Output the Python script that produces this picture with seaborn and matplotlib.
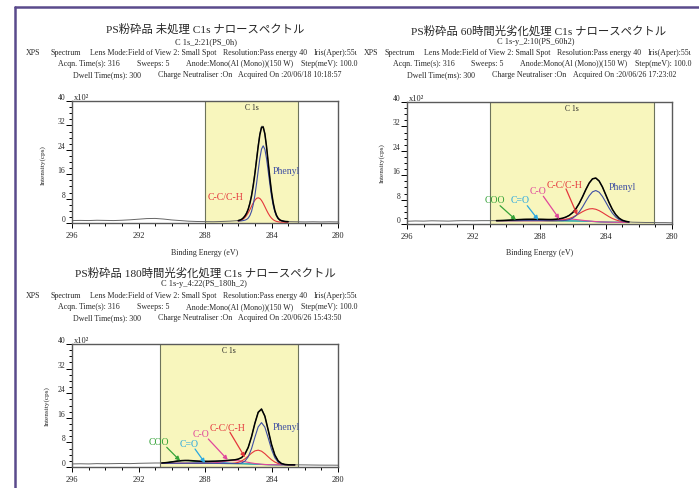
import numpy as np
import matplotlib
matplotlib.use('Agg')
import matplotlib.pyplot as plt
from matplotlib.lines import Line2D
from matplotlib.ticker import MultipleLocator
import seaborn as sns

# ---- axis setup shared by the three spectra ----
x_ticks = [296, 292, 288, 284, 280]
y_ticks = [0, 8, 16, 24, 32, 40]

# ---- panel 1 : untreated ----
p1_title = 'PS粉砕品 未処理 C1s ナロースペクトル'
p1_scan = 'C 1s_2:21(PS_0h)'
p1_acquired = '20/06/18 10:18:57'
p1_region = (288.0, 282.4)
p1_be = np.linspace(286.0, 283.0, 31)
p1_baseline = [0.45, 0.45, 0.45, 0.45, 0.45, 0.45, 0.45, 0.44, 0.43, 0.42,
               0.41, 0.39, 0.37, 0.35, 0.33, 0.31, 0.29, 0.28, 0.27, 0.26,
               0.25, 0.25, 0.25, 0.25, 0.25, 0.25, 0.25, 0.25, 0.25, 0.25, 0.25]
p1_phenyl = [0.2, 0.22, 0.26, 0.35, 0.48, 0.7, 1.15, 2.0, 3.4, 5.6,
             8.6, 12.5, 16.8, 20.9, 23.9, 25.0, 23.9, 20.9, 16.8, 12.5,
             8.6, 5.6, 3.4, 2.0, 1.15, 0.7, 0.48, 0.35, 0.26, 0.22, 0.2]
p1_cc = [0.15, 0.28, 0.49, 0.84, 1.34, 2.03, 2.91, 3.95, 5.07, 6.15,
         7.07, 7.69, 7.9, 7.69, 7.07, 6.15, 5.07, 3.95, 2.91, 2.03,
         1.34, 0.84, 0.49, 0.28, 0.15, 0.07, 0.03, 0.02, 0, 0, 0]
p1_raw_peak = [0.8, 1.0, 1.2, 1.7, 2.4, 3.3, 4.7, 6.7, 9.3, 12.7,
               16.6, 21.1, 25.6, 29.4, 31.7, 31.7, 29.3, 25.0, 19.8, 14.6,
               10.0, 6.5, 4.0, 2.4, 1.5, 1.0, 0.75, 0.6, 0.5, 0.45, 0.45]
p1_raw_left_be = np.linspace(296.0, 286.5, 20)
p1_raw_left = [0.8, 0.85, 0.8, 0.9, 0.85, 0.8, 0.9, 1.05, 1.25, 1.45,
               1.5, 1.3, 1.0, 0.8, 0.6, 0.5, 0.45, 0.42, 0.5, 0.6]
p1_raw_right_be = np.linspace(282.5, 280.0, 6)
p1_raw_right = [0.4, 0.35, 0.4, 0.35, 0.4, 0.35]

# ---- panels 2 and 3 share the fit grid ----
fit_be = np.linspace(290.6, 282.6, 41)
raw_left_be = np.linspace(296.0, 291.0, 11)
raw_right_be = np.linspace(282.4, 280.0, 7)

# ---- panel 2 : 60 h photo-degradation ----
p2_title = 'PS粉砕品 60時間光劣化処理 C1s ナロースペクトル'
p2_scan = 'C 1s-y_2:10(PS_60h2)'
p2_acquired = '20/06/26 17:23:02'
p2_region = (291.0, 281.1)
p2_baseline = [1.1, 1.1, 1.1, 1.1, 1.1, 1.1, 1.1, 1.1, 1.1, 1.1,
               1.1, 1.1, 1.1, 1.1, 1.09, 1.08, 1.07, 1.06, 1.05, 1.04,
               1.03, 1.02, 1.01, 1.0, 0.99, 0.97, 0.95, 0.92, 0.88, 0.83,
               0.77, 0.72, 0.67, 0.63, 0.6, 0.58, 0.57, 0.56, 0.55, 0.55, 0.55]
p2_phenyl = [0, 0, 0, 0, 0, 0, 0, 0, 0, 0,
             0, 0, 0, 0, 0, 0, 0, 0, 0.01, 0.03,
             0.07, 0.19, 0.43, 0.91, 1.73, 2.97, 4.64, 6.55, 8.37, 9.71,
             10.2, 9.71, 8.37, 6.55, 4.64, 2.97, 1.73, 0.91, 0.43, 0.19, 0.07]
p2_cc = [0, 0, 0, 0, 0, 0, 0, 0, 0, 0,
         0, 0, 0, 0, 0, 0, 0.01, 0.03, 0.07, 0.14,
         0.26, 0.47, 0.79, 1.23, 1.79, 2.43, 3.09, 3.66, 4.06, 4.2,
         4.06, 3.66, 3.09, 2.43, 1.79, 1.23, 0.79, 0.47, 0.26, 0.14, 0.07]
p2_co = [0, 0, 0, 0, 0, 0, 0, 0, 0, 0,
         0, 0, 0, 0.01, 0.03, 0.05, 0.10, 0.17, 0.27, 0.39,
         0.49, 0.57, 0.6, 0.57, 0.49, 0.39, 0.27, 0.17, 0.10, 0.05,
         0.03, 0.01, 0, 0, 0, 0, 0, 0, 0, 0, 0]
p2_c_eq_o = [0, 0, 0, 0, 0, 0.01, 0.01, 0.03, 0.06, 0.10,
             0.16, 0.22, 0.29, 0.33, 0.35, 0.33, 0.29, 0.22, 0.16, 0.10,
             0.06, 0.03, 0.01, 0.01, 0, 0, 0, 0, 0, 0,
             0, 0, 0, 0, 0, 0, 0, 0, 0, 0, 0]
p2_coo = [0.01, 0.03, 0.06, 0.10, 0.16, 0.22, 0.29, 0.33, 0.35, 0.33,
          0.29, 0.22, 0.16, 0.10, 0.06, 0.03, 0.01, 0.01, 0, 0,
          0, 0, 0, 0, 0, 0, 0, 0, 0, 0,
          0, 0, 0, 0, 0, 0, 0, 0, 0, 0, 0]
p2_raw_fit = [1.1, 1.15, 1.12, 1.2, 1.24, 1.3, 1.42, 1.44, 1.5, 1.55,
              1.52, 1.56, 1.53, 1.55, 1.5, 1.5, 1.46, 1.5, 1.55, 1.72,
              1.9, 2.3, 2.8, 3.75, 5.0, 6.8, 8.9, 11.4, 13.5, 14.9,
              15.1, 14.1, 12.2, 9.5, 7.0, 4.8, 3.1, 1.9, 1.25, 0.9, 0.7]
p2_raw_left = [0.9, 1.0, 0.95, 1.05, 1.0, 0.95, 1.05, 1.1, 1.05, 1.1, 1.1]
p2_raw_right = [0.6, 0.55, 0.5, 0.5, 0.45, 0.45, 0.4]

# ---- panel 3 : 180 h photo-degradation ----
p3_title = 'PS粉砕品 180時間光劣化処理 C1s ナロースペクトル'
p3_scan = 'C 1s-y_4:22(PS_180h_2)'
p3_acquired = '20/06/26 15:43:50'
p3_region = (290.7, 282.4)
p3_baseline = [1.2, 1.2, 1.2, 1.2, 1.2, 1.2, 1.2, 1.2, 1.2, 1.2,
               1.2, 1.2, 1.2, 1.2, 1.19, 1.18, 1.17, 1.16, 1.15, 1.14,
               1.13, 1.12, 1.1, 1.08, 1.06, 1.04, 1.01, 0.97, 0.93, 0.88,
               0.83, 0.79, 0.76, 0.74, 0.72, 0.71, 0.7, 0.7, 0.7, 0.7, 0.7]
p3_phenyl = [0, 0, 0, 0, 0, 0, 0, 0, 0, 0,
             0, 0, 0, 0, 0, 0, 0, 0, 0, 0,
             0, 0, 0.01, 0.06, 0.25, 0.85, 2.31, 5.01, 8.73, 12.17,
             13.6, 12.17, 8.73, 5.01, 2.31, 0.85, 0.25, 0.06, 0.01, 0, 0]
p3_cc = [0, 0, 0, 0, 0, 0, 0, 0, 0, 0,
         0, 0, 0, 0, 0, 0, 0, 0, 0, 0.01,
         0.02, 0.07, 0.18, 0.43, 0.89, 1.61, 2.55, 3.54, 4.31, 4.6,
         4.31, 3.54, 2.55, 1.61, 0.89, 0.43, 0.18, 0.07, 0.02, 0.01, 0]
p3_co = [0, 0, 0, 0, 0, 0, 0, 0, 0, 0,
         0, 0, 0.01, 0.03, 0.06, 0.12, 0.21, 0.34, 0.5, 0.68,
         0.84, 0.96, 1.0, 0.96, 0.84, 0.68, 0.5, 0.34, 0.21, 0.12,
         0.06, 0.03, 0.01, 0, 0, 0, 0, 0, 0, 0, 0]
p3_c_eq_o = [0, 0, 0, 0, 0, 0.01, 0.02, 0.03, 0.06, 0.1,
             0.17, 0.25, 0.34, 0.42, 0.48, 0.5, 0.48, 0.42, 0.34, 0.25,
             0.17, 0.1, 0.06, 0.03, 0.02, 0.01, 0, 0, 0, 0,
             0, 0, 0, 0, 0, 0, 0, 0, 0, 0, 0]
p3_coo = [0.11, 0.19, 0.3, 0.45, 0.61, 0.76, 0.86, 0.9, 0.86, 0.76,
          0.61, 0.45, 0.3, 0.19, 0.11, 0.06, 0.03, 0.01, 0, 0,
          0, 0, 0, 0, 0, 0, 0, 0, 0, 0,
          0, 0, 0, 0, 0, 0, 0, 0, 0, 0, 0]
p3_raw_fit = [1.3, 1.4, 1.48, 1.66, 1.8, 1.95, 2.1, 2.12, 2.15, 2.05,
              1.97, 1.92, 1.83, 1.86, 1.82, 1.88, 1.87, 1.95, 1.98, 2.1,
              2.15, 2.27, 2.33, 2.6, 3.05, 4.2, 6.4, 9.9, 14.3, 17.9,
              19.0, 16.6, 12.0, 7.3, 3.9, 2.0, 1.15, 0.85, 0.75, 0.7, 0.72]
p3_raw_left = [1.0, 1.05, 1.0, 1.1, 1.05, 1.1, 1.15, 1.1, 1.2, 1.25, 1.3]
p3_raw_right = [0.7, 0.68, 0.65, 0.62, 0.6, 0.6, 0.58]

# colours
YELLOW = '#f8f6bd'
EDGE = '#6d735c'
PHENYL = '#3f4fa3'
CC = '#e4363c'
CO = '#e0479b'
C_EQ_O = '#2aa8e0'
COO = '#36a339'

W, H = 699, 489

sns.set_style('white')
plt.rcParams['font.family'] = ['Liberation Serif', 'Noto Sans CJK JP']

fig = plt.figure(figsize=(W / 100, H / 100), dpi=100)


def fx(x):
    return x / W


def fy(y):
    return 1 - y / H


def header(title, scan, acquired, ys, title_x, scan_x, l3, l4, l5):
    fig.text(fx(title_x), fy(ys[0]), title, ha='center', va='center', fontsize=8.2)
    fig.text(fx(scan_x), fy(ys[1]), scan, ha='center', va='center', fontsize=6)
    line3 = ['XPS', 'Spectrum', 'Lens Mode:Field of View 2: Small Spot',
             'Resolution:Pass energy 40', 'Iris(Aper):55ι']
    line4 = ['Acqn. Time(s): 316', 'Sweeps: 5', 'Anode:Mono(Al (Mono))(150 W)',
             'Step(meV): 100.0']
    line5 = ['Dwell Time(ms): 300', 'Charge Neutraliser :On',
             'Acquired On :' + acquired]
    for texts, xs, y in ((line3, l3, ys[2]), (line4, l4, ys[3]), (line5, l5, ys[4])):
        for t, x in zip(texts, xs):
            fig.text(fx(x), fy(y), t, ha='left', va='center', fontsize=5.7)


def style_axes(ax, ylabel_xy, xlabel_y=None):
    ax.set_xlim(296, 280)
    ax.set_ylim(0, 40)
    ax.set_xticks(x_ticks)
    ax.set_xticklabels([str(t) for t in x_ticks])
    ax.set_yticks(y_ticks)
    ax.set_yticklabels([str(t) for t in y_ticks], va='bottom')
    ax.xaxis.set_minor_locator(MultipleLocator(1))
    ax.yaxis.set_minor_locator(MultipleLocator(2))
    ax.tick_params(axis='both', which='both', direction='out', color='black',
                   width=0.7, bottom=True, left=True)
    ax.tick_params(axis='x', which='major', length=3.8, pad=2, labelsize=6)
    ax.tick_params(axis='x', which='minor', length=2.4)
    ax.tick_params(axis='y', which='major', length=4.5, pad=0.5, labelsize=5.5)
    ax.tick_params(axis='y', which='minor', length=2.2)
    for s in ax.spines.values():
        s.set_color('#5a5a5a')
        s.set_linewidth(1.0)
    ax.set_ylabel('Intensity(cps)', fontsize=5.2, va='center')
    ax.yaxis.set_label_coords(*ylabel_xy)
    if xlabel_y is not None:
        ax.set_xlabel('Binding Energy (eV)', fontsize=5.8, va='center')
        ax.xaxis.set_label_coords(0.5, xlabel_y)
    else:
        ax.set_xlabel('')
    ax.text(0.006, 1.0, 'x10²', transform=ax.transAxes, fontsize=6,
            ha='left', va='bottom')


def draw_spectrum(ax, be, baseline, comps, raw_be, raw, region):
    base = np.asarray(baseline, dtype=float)
    ax.axvspan(region[0], region[1], color=YELLOW, lw=0, zorder=0)
    for edge in region:
        ax.axvline(edge, color=EDGE, lw=0.8, zorder=1)
    ax.text((region[0] + region[1]) / 2, 38, 'C 1s', ha='center', va='center',
            fontsize=5.5, zorder=5)
    sns.lineplot(x=raw_be, y=raw, ax=ax, color='#666666', lw=0.7,
                 estimator=None, sort=False, zorder=2)
    envelope = base.copy()
    for vals, color in comps:
        vals = np.asarray(vals, dtype=float)
        envelope = envelope + vals
        sns.lineplot(x=be, y=base + vals, ax=ax, color=color, lw=0.8,
                     estimator=None, sort=False, zorder=3)
    sns.lineplot(x=be, y=envelope, ax=ax, color='black', lw=1.1,
                 estimator=None, sort=False, zorder=4)


def label(ax, text, x, y, color, start=None, tip=None):
    ax.text(x, y, text, color=color, fontsize=7, ha='left', va='center', zorder=6)
    if start is not None:
        ax.annotate('', xy=tip, xytext=start, zorder=6,
                    arrowprops=dict(arrowstyle='-|>', color=color, lw=0.9,
                                    mutation_scale=6, shrinkA=0, shrinkB=0))


# ---- panel 1 ----
ax1 = fig.add_axes([fx(72), fy(224), (338 - 72) / W, (224 - 102) / H])
draw_spectrum(ax1, p1_be, p1_baseline, [(p1_cc, CC), (p1_phenyl, PHENYL)],
              np.concatenate([p1_raw_left_be, p1_be, p1_raw_right_be]),
              np.concatenate([p1_raw_left, p1_raw_peak, p1_raw_right]), p1_region)
style_axes(ax1, (-0.109, 0.484), -0.237)
label(ax1, 'Phenyl', 283.93, 17.1, PHENYL)
label(ax1, 'C-C/C-H', 287.84, 8.6, CC)
header(p1_title, p1_scan, p1_acquired, [29.5, 41.7, 52.7, 63.5, 75.0], 205, 206,
       [26, 50.7, 90, 222.7, 313.3], [58.3, 136.7, 185.7, 300.7], [73.3, 158, 238.3])

# ---- panel 2 ----
ax2 = fig.add_axes([fx(407), fy(225), (672 - 407) / W, (225 - 103) / H])
draw_spectrum(ax2, fit_be, p2_baseline,
              [(p2_coo, COO), (p2_c_eq_o, C_EQ_O), (p2_co, CO), (p2_cc, CC),
               (p2_phenyl, PHENYL)],
              np.concatenate([raw_left_be, fit_be, raw_right_be]),
              np.concatenate([p2_raw_left, p2_raw_fit, p2_raw_right]), p2_region)
style_axes(ax2, (-0.0955, 0.506), -0.23)
label(ax2, 'Phenyl', 283.8, 12.4, PHENYL)
label(ax2, 'C-C/C-H', 287.57, 13.1, CC, (286.4, 11.5), (285.72, 2.95))
label(ax2, 'C-O', 288.62, 10.9, CO, (287.77, 9.1), (286.8, 1.64))
label(ax2, 'C=O', 289.72, 7.9, C_EQ_O, (288.74, 6.0), (288.07, 1.31))
label(ax2, 'COO', 291.33, 7.9, COO, (290.38, 6.0), (289.42, 1.31))
header(p2_title, p2_scan, p2_acquired, [31.0, 41.7, 52.7, 63.5, 75.0], 539, 536,
       [364, 385, 424, 556.7, 647.7], [392.7, 471, 520, 635], [407.3, 491.7, 572.7])

# ---- panel 3 ----
ax3 = fig.add_axes([fx(72), fy(468), (338 - 72) / W, (468 - 345) / H])
draw_spectrum(ax3, fit_be, p3_baseline,
              [(p3_coo, COO), (p3_c_eq_o, C_EQ_O), (p3_co, CO), (p3_cc, CC),
               (p3_phenyl, PHENYL)],
              np.concatenate([raw_left_be, fit_be, raw_right_be]),
              np.concatenate([p3_raw_left, p3_raw_fit, p3_raw_right]), p3_region)
style_axes(ax3, (-0.095, 0.504))
label(ax3, 'Phenyl', 283.9, 13.2, PHENYL)
label(ax3, 'C-C/C-H', 287.7, 12.7, CC, (286.5, 11.3), (285.6, 3.15))
label(ax3, 'C-O', 288.74, 11.0, CO, (287.8, 9.1), (286.63, 2.3))
label(ax3, 'C=O', 289.5, 7.5, C_EQ_O, (288.6, 5.85), (288.0, 1.3))
label(ax3, 'COO', 291.37, 8.2, COO, (290.3, 6.4), (289.5, 2.05))
header(p3_title, p3_scan, p3_acquired, [272.7, 284.3, 295.7, 307.3, 318.3], 205, 204,
       [26, 50.7, 90, 222.7, 313.3], [58.3, 136.7, 185.7, 300.7], [73.3, 158, 238.3])

# purple page frame of the scanned report
frame = '#5a4a8c'
fig.add_artist(Line2D([fx(15), fx(15)], [0, fy(8)], transform=fig.transFigure,
                      color=frame, lw=1.8))
fig.add_artist(Line2D([fx(15), 1], [fy(8), fy(8)], transform=fig.transFigure,
                      color=frame, lw=1.8))

fig.savefig('out.png', dpi=100)
